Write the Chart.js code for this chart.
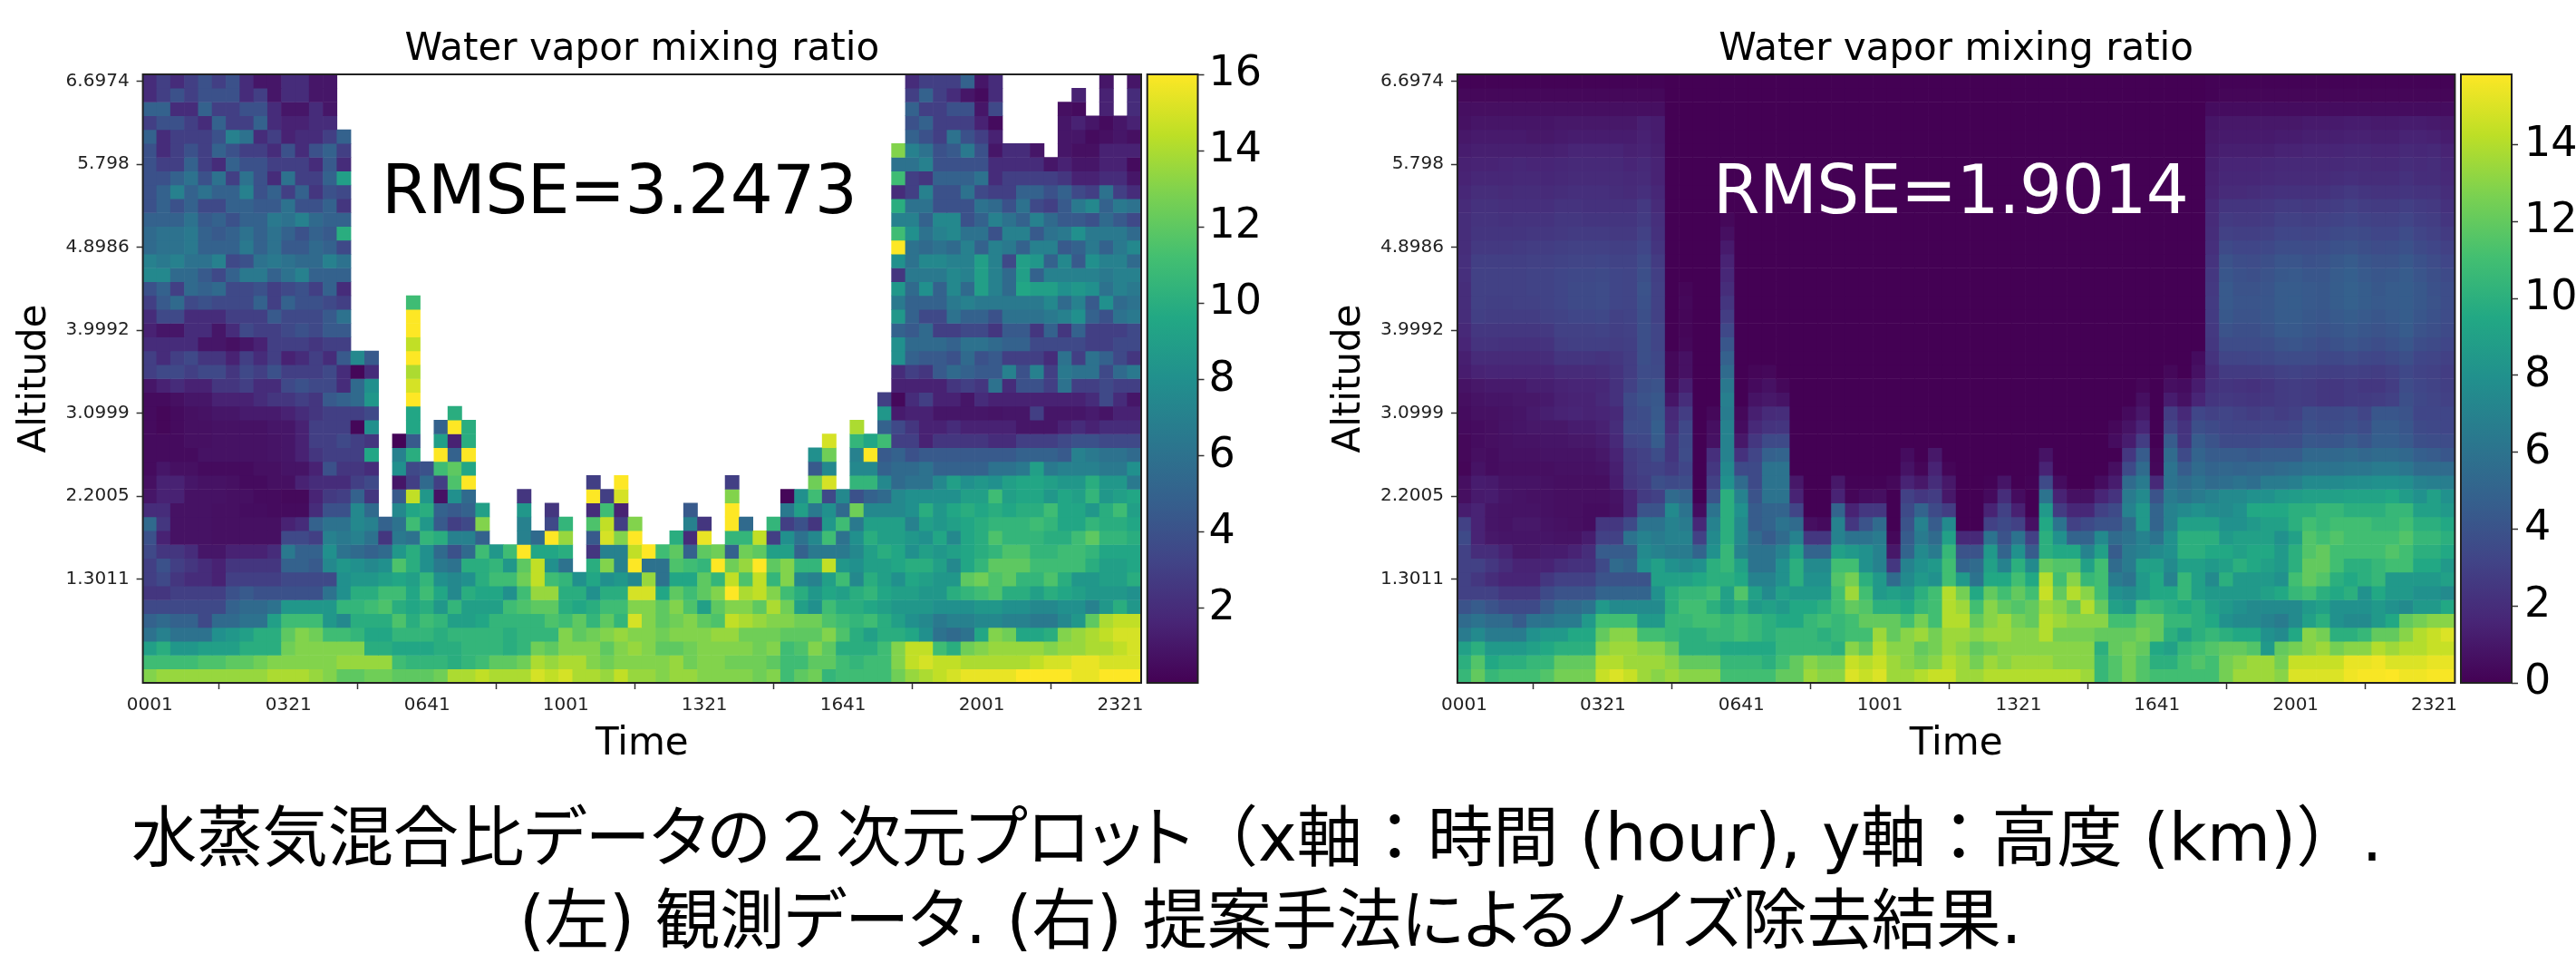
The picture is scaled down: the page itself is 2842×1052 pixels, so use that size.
<!DOCTYPE html>
<html>
<head>
<meta charset="utf-8">
<script src="https://cdn.jsdelivr.net/npm/chart.js@4"></script>
<style>
html, body { margin: 0; width: 2842px; height: 1052px; overflow: hidden; background: #fff; }
canvas { position: absolute; top: 0; filter: blur(0.6px); }
.rmse { position: absolute; top: 173px; font: 74px/72px "DejaVu Sans"; letter-spacing: -0.5px; white-space: nowrap; }
.caption { position: absolute; white-space: nowrap; transform-origin: 0 0; color: #000;
  font: 73px/80px "DejaVu Sans", "Noto Sans CJK JP"; }
.caption span { font-feature-settings: "palt"; }
</style>
</head>
<body>
<canvas id="leftMap" width="1416" height="850" style="left:0"></canvas>
<canvas id="leftBar" width="150" height="800" style="left:1262px"></canvas>
<canvas id="rightMap" width="1416" height="850" style="left:1450px"></canvas>
<canvas id="rightBar" width="130" height="800" style="left:2712px"></canvas>
<div class="rmse" style="left:421px;color:#000">RMSE=3.2473</div>
<div class="rmse" style="left:1890px;color:#fff">RMSE=1.9014</div>
<div class="caption" id="line1" data-left="145" data-width="2483" style="top:884px">水蒸気混合比<span>データの</span>２次元<span>プロット</span>（x軸：時間 (hour), y軸：高度 (km)）.</div>
<div class="caption" id="line2" data-left="573" data-width="1657" style="top:975px">(左) 観測<span>データ</span>. (右) 提案手法<span>によるノイズ</span>除去結果.</div>
<script>
const _ = null;
function rep(n, v) { return new Array(n).fill(v); }

// tick labels
const timeTicks = ['0001', '0321', '0641', '1001', '1321', '1641', '2001', '2321'];
const altitudeTicks = ['6.6974', '5.798', '4.8986', '3.9992', '3.0999', '2.2005', '1.3011'];
const leftBarTicks = [2, 4, 6, 8, 10, 12, 14, 16];
const rightBarTicks = [0, 2, 4, 6, 8, 10, 12, 14];

// water vapor per altitude row (top to bottom), one value per time step, null = no data
const observed = [
[2,3,2,3,4,3,4,2,1,1,2,2,1,1,...rep(41,_),2,3,3,3,5,1,2,...rep(7,_),1,_,1],
[2,3,4,3,4,4,4,2,3,1,2,2,1,1,...rep(41,_),3,5,3,2,1,.5,2,...rep(5,_),1.5,_,1.5,_,2],
[5,5,2,2,5,3,3,4,4,2,1,1,2,1,...rep(41,_),5,3,3,4,4,1,3.5,...rep(4,_),.7,.5,_,1.5,_,2],
[3,4,4,3,2,5,3,3,5,2,1.5,1.5,2,2,...rep(41,_),4,5,3,3,3,1.5,.5,...rep(4,_),1,1.5,1,.5,1,1.5],
[5,2,3,3,3,4,7,6,2,3,1.5,2,2,3,5,...rep(40,_),5,4,3,6,4,3,1.5,...rep(4,_),1,1,.5,.7,1,.7],
[4,2,3,4,3,5,4,3,3,2,4,2,4,5,3,...rep(39,_),13,7,6,4,4.5,6.5,4,1,2,2,1,_,1,.7,.7,1.5,1.5,1.5],
[4,3,3,5,3,2,5,4,4,3,3,3,2,4.5,2,...rep(39,_),6,6,7,4,4,4,4,2,2,2,2,1,1.5,1,1,1.5,1.5,.5],
[4,4,5,6,4,6,3,6,4,2,6,3,3,5,9,...rep(39,_),11,3,2.5,5,5,5,6,2,3,3,3,3,2.5,1.5,1.5,2,2,1],
[4,5,7,5,6,5,5,7,4,5,3,5,2.5,4,3.5,...rep(39,_),2,3,7,4,4,6,3.5,3,3,5,5,4,5,3.5,3,6,3,2],
[4,5,4,5,3.5,3.5,5,5,4.5,4.5,6,4,4,5,2.5,...rep(39,_),10,6,6,4,4,4,6,5.5,4,6,3.5,3,4.5,6.5,7.5,5,6.5,6],
[5,5,5,6,4.5,5,4,5,5,6.5,6,7,5.5,5,5,...rep(39,_),7,7,5,7.5,7.5,4,5,7,6,5,7,5.5,4.5,4.5,4,5.5,4.5,3.5],
[5.5,6,6,6.5,5,4.5,5,6,5,6,5,4,5,4.5,10,...rep(39,_),11,8,6,7,7.5,6,6,4,7,7,4.5,6,6.5,8,6.5,6.5,6.5,5.5],
[5.5,6,6,6.5,5,5,5,6.5,5,6,4.5,4.5,5.5,5,3.5,...rep(39,_),16,6,5.5,6,5.5,7,5,7,6.5,5,7,7,4.5,5,6.5,5,6.5,7.5],
[7,6.5,7,6,6,7,3.5,4,6,6.5,6,5.5,5.5,7,6,...rep(39,_),8,6,7.5,7.5,7,7,9,7,3.5,9,8.5,5,7.5,4.5,8,7,7,5.5],
[7.5,7.5,5.5,5.5,4.5,3.5,5,6.5,6.5,5,6,7,5,5,5,...rep(39,_),2.5,6.5,6.5,6.5,7.5,7,9,7,5.5,9,5,7,7,7,7,6.5,7,7],
[4,5,3,5.5,5,5.5,3.5,3.5,4,3,3.5,4,3,5,2,...rep(39,_),8.5,5.5,8,5,7.5,5.5,9,7,5.5,9.5,9,9,8,8.5,8,6,7,6.5],
[3,4.5,5.5,3.5,4,3.5,3.5,3.5,5,3,5,4,4,3.5,3,...rep(4,_),11,...rep(34,_),6.5,5,5,5,6.5,7,6.5,6.5,6.5,6.5,6.5,7.5,5.5,7,4.5,8,5.5,6],
[2,3.5,3.5,2,2,2,3,3,3,4.5,3.5,3.5,3.5,4.5,6,...rep(4,_),16,...rep(34,_),8.5,5,3.5,3.5,6,5,5,4,6,6,6,6.5,7,8,5,4,6,6.5],
[1.5,1,1,2,2,1,2,3.5,3,3,3.5,4,3.5,4.5,4.5,...rep(4,_),16,...rep(34,_),5,4.5,5.5,3,3,3.5,3.5,2.5,4.5,4.5,2.5,5,2.5,5,3,3,3,3.5],
[2,2,2,2,1,1,.7,1,1.5,3,3,3,2.5,3,3,...rep(4,_),14.5,...rep(34,_),8,5.5,5.5,5.5,5,6,6,5.5,5,5,3.5,3.5,3.5,3.5,3,3,3.5,3.5],
[3,2,3,3.5,2.5,2.5,1.5,3,2,3,1.5,2,3,2,4.5,7.5,4.5,...rep(2,_),16,...rep(34,_),8,5,4.5,4.5,4,5.5,4,4.5,3,3,3,2,6,3,6,5,3.5,2.5],
[3,3.5,3.5,3,3.5,3.5,2.5,3.5,3,4,3,3,3,3.5,2,.3,2,...rep(2,_),14,...rep(34,_),2,3,2.5,4.5,5.5,5,4.5,4.5,7,4,7,3,6.5,6,6,3.5,5.5,6.5],
[1,1.5,2,1.5,1.5,2.5,2.5,3,2,2,3.5,4,3.5,3.5,2,5.5,8,...rep(2,_),15,...rep(34,_),1.5,1.5,1.5,1.5,2.5,3,2.5,6,2,4,4,3,6,3,3,3.5,3,3],
[.5,.5,.7,1,1,1.5,1.5,1.5,2,2.5,2.5,3,2.5,4.5,5,5.5,8.5,...rep(2,_),16,...rep(33,_),3,.4,2,3,1.5,1.5,1,2,1.5,1.5,1.5,1.5,1.5,1.5,1.5,2,3.5,2,1],
[.5,.3,.5,.7,.8,1,1,1.2,1.2,1.2,1.5,2,2.5,3,3,3,3.5,...rep(2,_),9.5,...rep(2,_),10,...rep(30,_),8.5,1.2,1.5,1.5,1,1,1,1,.9,1,1,3,1,1,1,1.2,.9,1.5,1.5],
[.5,.3,.5,.7,.7,.8,.8,.8,.8,1,1,1.5,3,3,3,.3,8,...rep(2,_),9.5,_,5,16,10,...rep(27,_),14,_,5,3.5,2.5,1.5,1.5,2,1.5,1.5,1.5,1.5,1,1,1,1.5,2,1.5,2,2,2],
[.5,.5,.5,.7,.7,.8,.8,.8,.8,.9,1,1.5,3,3,3.5,3,2.5,_,.2,4.5,_,9,1.5,10,...rep(25,_),15,_,10.5,9.5,11,3,3,1.5,2.5,2.5,2.5,2.5,2,2,3,3,3,3.5,4,4,3.5,3.5,3.5],
[.5,.5,.5,.5,.8,.8,.8,.8,.8,.9,1,1.5,2.5,3,3,3,9.5,_,7,10,_,16,5,16,...rep(24,_),8,12.5,_,7,16,4.5,5,4,4.5,4.5,4.5,4.5,4.5,4.5,4.5,5,5,5,4.5,7,6.5,6,6,5.5],
[.5,1,.7,.7,.5,.5,.5,.5,.7,.7,.9,.9,1.5,4,2.5,2.5,2,_,8,3.5,4,11,12,9.5,...rep(24,_),4.5,7.5,_,7.5,7.5,5,5.5,5.5,6,5,5,5,5,6,6,6.5,9,6.5,7,7,7,6.5,6.5,8],
[.7,1.5,1.5,1,.8,.8,.7,.5,.5,.7,.7,1.5,2,2,2,3,3.5,_,1,3,5.5,3,11.5,16,...rep(8,_),3,_,16,...rep(7,_),3,...rep(5,_),12.5,15,_,10.5,10.5,7.5,5.5,6,6,7.5,9,8,8.5,8,9,9.5,9.5,9,8.5,8.5,10,8.5,8.5,6.5],
[1,1.5,1.5,.8,.8,.8,.7,.7,.5,.5,.4,.4,1.6,2.7,3,5,2.5,_,4.5,14.5,8.5,.8,8,5.5,...rep(3,_),2.5,...rep(4,_),16,3,15,...rep(7,_),13,...rep(3,_),.3,8,11,3.5,7.5,4,5,5.5,7.5,8,8,8,8,9,9,11,9,9.5,9.5,8.5,9.5,9,10.5,8.5,9,9.5],
[2,2,.8,.8,.8,.7,.7,.6,.6,.5,.5,.5,2,4,4,7.5,5.5,_,7.5,9.5,10,5,4.5,5,9,...rep(2,_),8.5,_,2.5,...rep(2,_),2,11,1.5,...rep(4,_),4.5,...rep(2,_),16,...rep(3,_),6.5,9,6.5,8,5.5,12.5,7.5,7.5,7.5,8,10,8.5,9.5,10,9.5,10,9.5,10,10,11,9.5,9.5,8.5,10,11,9],
[5.5,2.5,.8,.8,.8,.7,.7,.7,.7,.7,1.5,2,5,6,6,7.5,7,5,6,11,8.5,4.5,3,3.5,13,...rep(2,_),7,_,3.5,10.5,_,11.5,14.5,3,13,...rep(3,_),7,2.5,_,16,5.5,_,10.5,3,4,2.5,8.5,11,6.5,9,9,9,7,9,8.5,9,9.5,10,10.5,10.5,10.5,11,10.5,9.5,9.5,10.5,10,10,9.5],
[4,1.5,.8,.8,.8,.7,.7,.7,.7,.7,3.5,3.5,3,7,6.5,7,6,2.5,6.5,6,10.5,10,7,7,5,...rep(2,_),7,5.5,16,13.5,_,4.5,15,13,16,...rep(2,_),10,2,15.5,_,10.5,10.5,14.5,3,8,6,7.5,11,6,8,10,9,9,8.5,8,9.5,7.5,9.5,10,11.5,10.5,10.5,10.5,10,10,11,12,10.5,10.5,10],
[3.5,2.5,2.5,2,1,1,1.5,1.5,1.5,2,6.5,5,5,8,6,5.5,5,5.5,8.5,10,8,5.5,4,5.5,11,8.5,11,16,9.5,9.5,10,_,2.5,7,7,14.5,16,11,12,5,12,12.5,5,12.5,12,9,9,5,6.5,6.5,6.5,7.5,9,10,9.5,8,9,8.5,9,9.5,10,10.5,11.5,11.5,10.5,10.5,11,11,10.5,9.5,9.5,9.5],
[3,4,3,2.5,2,1.5,2.5,2.5,2.5,2.5,5,5,4.5,7.5,8.5,8,7.5,8,11.5,10,8,6.5,6,10,10,10.5,8.5,12,14.5,8,6,_,10,13,7,16,6,6,11.5,11,10.5,16,12.5,13.5,16,12,13,10.5,10.5,14.5,8.5,8,9,9,9.5,10,10,9,7.5,9.5,10.5,12,12,12,11,11,11,11,10,9,9,9.5],
[3,3.5,2.5,2,2,1.5,3,3,3,3,3.5,3.5,3.5,3.5,8,8.5,8.5,9,9.5,9,10.5,8,7.5,8,10,11,11,12.5,14.5,11,10.5,8,9.5,8,8.5,7.5,13.5,6,9.5,9.5,12,10.5,14.5,11.5,14.5,10.5,13,7.5,7,9,11,7.5,10,9,8,9.5,9,8.5,8.5,12,12.5,11.5,12,10.5,10.5,11.5,10,8.5,8.5,9,9,10],
[2.5,2.5,3,3,3,3,4,4.5,4,4,4,4,4,6,8,10,10,11,11,9.5,11,9.5,7.5,10,9.5,9.5,8,11,13.5,13.5,10,10,8,10,10,15,15,9.5,12,11,12,13,16,14,14.5,13,11,10,8.5,9.5,9,10,10.5,9.5,9,9,8.5,8.5,10,10.5,11,11.5,10,10,9,10,9.5,9,8.5,8.5,8.5,8],
[3.5,3.5,3.5,3.5,3.5,3.5,5,5.5,5.5,6,8.5,8.5,8.5,8.5,10.5,10.5,11,11.5,10,9.5,10,8.5,10.5,9,9,9,11,11.5,12,12,10,9.5,10,11,11,13,13,12,13,11.5,9,12,13,13,12,14,12.5,9,8,11,10,10,9.5,9,8.5,8.5,8.5,8,8,8,8.5,8.5,8,8,7.5,7.5,8,8,7,8.5,10,8.5],
[5,5.5,5,5,3.5,5.5,5.5,6,6,9,11,11,11,8.5,7.5,10,10,10,11.5,10,11,10.5,9,9,9.5,10.5,10.5,10.5,10.5,11.5,11,12,10.5,12,10.5,15,13,12,12.5,13,12,11.5,14.5,14,13.5,13,13,12.5,12.5,11.5,11,10.5,11,10,9,8,7.5,6.5,7,7,7.5,7.5,7,7,6.5,6.5,7.5,8.5,12,14,14.5,14.5],
[6,7,6,6,6,8,8.5,9,10,10,12,13,12.5,11,11,10.5,9.5,9.5,10.5,10.5,10.5,10,10.5,10.5,10.5,10.5,10,10.5,10.5,10.5,13,12,12.5,13,13.5,13,13,12.5,13,13,13,13.5,13.5,12.5,12.5,12.5,12,12,12,13,11.5,10,9,10,10,9.5,8,6,5.5,6,9.5,13,12.5,9.5,9.5,10,13,13.5,14,14.5,15,15],
[9,10,8.5,8.5,9,9,9,10,10,10,12.5,13,13,13,13,13,10,10,9.5,9.5,9.5,10,10,10.5,10.5,10.5,10,10.5,12.5,12,13,13,13,12,13,13.5,13,12,12,12.5,13,13,13,13,12.5,13,11,11.5,13,12,10,10,10,11,13,14.5,14.5,11,10,12.5,13,13.5,13.5,13.5,13.5,13,13.5,13.5,14,14,14.5,15],
[11,11,11,11,11.5,11.5,12,12,12.5,13,13,13,13,13,13.5,13.5,13.5,13.5,11,10.5,10.5,10.5,10,10.5,11,12,12,12.5,14,13.5,14,14,13,12.5,13,13,13,13,13.5,12.5,13,13,12.5,12.5,12.5,12,11,11,12,12,11,10.5,11,11,13,14.5,15,14.5,14.5,14,14,14,14,14,14.5,15,15,15.5,15.5,15,15,15],
[13,13.5,13.5,13.5,13.5,13.5,13.5,13.5,13.5,14,14,14,13.5,13,12,12,12.5,12.5,12,12,12,12.5,14,14,14.5,14,14,14,15,14.5,15,14,14,13.5,14.5,13.5,13.5,13,13.5,13.5,13,13,13,13,12.5,13,11,12,12.5,10.5,11,11,11,11,12.5,13.5,14,14.5,15,15.5,15.5,15.5,15.5,16,16,16,16,15.5,15.5,16,16,16]
];

const denoised = [
[...rep(15,.1),...rep(39,0),...rep(18,.1)],
[...rep(15,.3),...rep(39,0),.1,...rep(17,.2)],
[...rep(15,.6),...rep(39,0),...rep(18,.5)],
[.7,.9,.9,.9,.9,.9,.9,1,1,1,1,1,1,1.3,1.2,...rep(39,0),.9,1,1,1,1,1,1,1.1,1.1,1.1,1.2,1.2,1.1,1.1,1.2,1.2,1.1,1],
[1,1.1,1.1,1.1,1.1,1,1,1.1,1.2,1.2,1.2,1.2,1.2,1.4,1.2,...rep(39,0),1,1.1,1.1,1.1,1.1,1.2,1.2,1.3,1.3,1.3,1.4,1.4,1.3,1.3,1.5,1.5,1.4,1.2],
[1.2,1.3,1.3,1.3,1.3,1.3,1.3,1.4,1.6,1.6,1.6,1.6,1.4,1.5,1.3,...rep(39,0),1.1,1.3,1.3,1.3,1.3,1.5,1.5,1.6,1.6,1.6,1.7,1.7,1.6,1.6,1.8,1.7,1.8,1.5],
[1.4,1.5,1.5,1.6,1.7,1.6,1.6,1.7,1.8,1.8,1.8,1.8,1.6,1.8,1.5,...rep(39,0),1.3,1.6,1.6,1.6,1.7,1.8,1.8,1.8,1.8,1.8,1.9,1.9,1.8,1.8,2,1.9,2,1.7],
[1.5,1.7,1.7,1.7,1.8,1.8,1.7,1.8,1.9,1.9,1.9,1.9,1.8,1.9,1.5,...rep(39,0),1.4,1.7,1.7,1.7,1.8,1.9,1.9,1.9,1.9,2,2.1,2,2,2,2.2,2,2,1.8],
[1.7,2,2,1.9,2,2,1.9,2,2.1,2.1,2.1,2,1.9,2.1,1.7,...rep(39,0),1.5,1.9,1.9,2,2.1,2.2,2.2,2.2,2.2,2.4,2.6,2.4,2.3,2.3,2.4,2.3,2.3,2],
[1.9,2.2,2.2,2.1,2.1,2.1,2.1,2.3,2.3,2.2,2.2,2.2,2.2,2.6,1.9,...rep(39,0),1.8,2.4,2.4,2.4,2.5,2.7,2.7,2.6,2.7,2.8,3,2.8,2.7,2.7,2.9,2.7,2.6,2.2],
[2,2.3,2.3,2.2,2.3,2.3,2.3,2.5,2.5,2.4,2.4,2.4,2.4,2.7,2.1,...rep(4,0),.3,...rep(34,0),1.9,2.7,2.6,2.6,2.7,3,3,2.9,3,3.1,3.3,3.1,3,3,3.2,2.9,2.8,2.4],
[2,2.4,2.4,2.4,2.4,2.5,2.5,2.6,2.7,2.7,2.7,2.6,2.6,3,2.2,...rep(4,0),.6,...rep(34,0),2,3,2.9,2.9,3,3.3,3.3,3.2,3.3,3.5,3.6,3.5,3.3,3.3,3.6,3.2,3,2.7],
[2,2.6,2.6,2.6,2.7,2.8,2.8,2.9,3,3,3,2.9,2.9,3.3,2.4,...rep(4,0),1.1,...rep(34,0),2.1,3.5,3.3,3.3,3.4,3.7,3.7,3.6,3.7,3.9,4,3.8,3.6,3.7,3.9,3.5,3.3,3],
[2.1,2.9,2.9,2.9,2.9,3,3,3.1,3.2,3.2,3.3,3.1,3.1,3.6,2.7,...rep(4,0),1.5,...rep(34,0),2.3,4,3.7,3.6,3.8,4.1,4.1,3.9,4,4.3,4.5,4.2,4,4,4.3,3.9,3.6,3.3],
[2.1,3,3,3,3,3.1,3.1,3.3,3.4,3.4,3.5,3.3,3.2,3.8,2.9,...rep(4,0),1.7,...rep(34,0),2.5,4.2,3.9,3.8,4,4.3,4.4,4.2,4.2,4.5,4.7,4.4,4.2,4.3,4.5,4.1,3.8,3.5],
[2,3,3,3,3,3.1,3.1,3.3,3.5,3.5,3.6,3.3,3.2,4,3,0,.2,0,0,2,...rep(34,0),2.6,4.4,4,4,4.1,4.5,4.5,4.4,4.3,4.6,4.8,4.6,4.3,4.5,4.6,4.3,3.9,3.7],
[2,3,2.9,2.9,3,3,3.1,3.3,3.5,3.5,3.6,3.3,3.2,3.9,3,0,.3,0,0,2.4,...rep(34,0),2.7,4.4,4.1,4.1,4.2,4.5,4.6,4.4,4.3,4.6,4.8,4.6,4.4,4.5,4.6,4.3,4,3.7],
[2,2.9,2.8,2.8,2.8,2.8,3,3.1,3.3,3.3,3.4,3,3.1,3.8,3,0,.2,0,0,2.8,...rep(34,0),2.7,4.3,4,4,4.2,4.5,4.5,4.3,4.2,4.4,4.6,4.4,4.2,4.4,4.6,4.2,3.9,3.6],
[1.8,2.5,2.5,2.5,2.5,2.5,2.6,3,3,3,3.1,2.9,3,3.8,3.2,0,.2,0,0,3.4,...rep(34,0),2.6,4,3.8,3.8,4,4.4,4.4,4.2,4,4.2,4.4,4.2,4,4.2,4.5,4,3.8,3.5],
[1.6,2.3,2.3,2.2,2.2,2.2,2.3,2.8,2.9,2.9,2.9,2.8,2.9,3.8,3.2,0,.3,0,0,4.2,...rep(34,0),2.5,3.6,3.6,3.6,3.7,4,4.1,3.9,3.7,3.9,4.1,3.9,3.7,3.9,4.2,3.7,3.5,3.3],
[1.3,1.9,1.9,1.9,1.9,1.9,2,2.4,2.4,2.4,2.3,2.5,2.8,3.8,3.4,.3,.7,0,0,4.8,...rep(33,0),.5,2.3,3.2,3.2,3.3,3.4,3.6,3.6,3.6,3.4,3.4,3.6,3.4,3.3,3.5,3.8,3.3,3.2,3],
[1.2,1.5,1.6,1.6,1.6,1.6,1.6,1.9,1.9,1.9,2,2.3,2.8,3.6,3.5,.3,.7,0,0,5.5,0,.2,.3,0,...rep(27,0),.3,0,.7,2,2.7,2.7,2.7,2.8,3,3.1,3,2.9,2.9,3,2.9,2.8,3,3.4,3.1,3,2.8],
[.8,1,1.1,1.1,1.1,1.3,1.3,1.5,1.6,1.6,1.7,2.2,3,3.8,4,.5,1.3,0,0,6.3,0,.4,.7,.3,...rep(25,0),.2,0,.6,.5,1.2,2.2,2.4,2.3,2.2,2.4,2.7,2.8,2.7,2.5,2.5,2.7,2.5,2.5,2.8,3.6,3.3,3.1,2.9],
[.6,.8,.9,.9,1,1,1.1,1.4,1.5,1.5,1.8,2.2,3.5,4,4.3,.9,2,0,0,6.8,0,.8,1,.8,...rep(25,0),.6,0,1.2,.7,1.6,2.4,2.6,2.5,2.4,2.5,2.7,2.8,2.7,2.5,2.5,2.7,2.7,2.8,3,3.8,3.4,3.2,3],
[.5,.7,.7,.8,.9,1.1,1.3,1.5,1.6,1.5,1.6,1.8,3.4,3.7,4.4,1.8,2.8,0,.3,6.6,.3,1.3,1.9,2,...rep(24,0),.4,1,0,2.8,1.8,3.3,3,3.2,3,2.8,3,2.8,3,3.7,3.5,3.5,3.7,3.2,4.2,4.2,4,3.3,3.3,3.3],
[.4,.5,.6,.8,.9,1,1,1,1.2,1.2,1.4,2,3.6,3.6,4.7,2,3.4,0,.6,7,.5,1.8,2.3,2.4,...rep(23,0),.3,.8,1.6,0,3.2,2.3,3.8,3.5,3.3,3.2,3.2,3.2,3.2,3.4,3.9,3.7,3.7,3.9,3.6,4.5,4.5,4.2,3.5,3.4,3.3],
[.3,.5,.6,.7,.8,.8,.9,.9,1,1,1.2,1.8,3.2,3.4,4.5,2.4,3.5,0,.7,7,1,2.5,3.5,3.5,...rep(23,0),.5,1.2,2.8,0,4.5,2.4,4.5,4,3.5,3.5,3.5,3.7,3.6,3.7,4.3,4.2,4.2,4.5,4.1,4.7,4.7,4.4,3.8,3.7,3.6],
[.3,.6,.5,.7,.7,.7,.8,.8,.8,.8,1,1.5,2.7,3,3.7,2.4,3.6,0,2.1,7,2.2,3.2,4.8,5,...rep(8,0),.5,0,1,...rep(7,0),.8,...rep(5,0),2.5,4.5,.2,5.5,3.5,5,4.5,4.5,4.5,4.3,4.5,4.5,4.5,5.3,5.3,5.3,5.5,5.2,5.5,5.5,5.3,4.7,4.5,4.2],
[.2,.8,.5,.6,.6,.6,.6,.7,.7,.7,.8,1.3,2.6,3,3.1,2.7,3.3,0,2.5,7.5,3.5,3.5,6,6,...rep(8,0),.8,.2,1.5,.2,...rep(6,0),1.5,...rep(4,0),.6,3.5,5.5,.3,6,4.5,5.5,5,5.2,5,5.2,5.2,5.5,5.7,6,6,6,6.2,6.2,6.5,6.5,6.2,5.5,5.5,5.5],
[.6,1.2,1.1,.8,.8,.8,.7,.6,.6,.6,.6,1.2,2.5,2.8,3.8,3.5,3.7,0,3,8,5.5,3.5,6,6,1,0,0,1,.1,.1,.1,.3,1.5,1,2,1,0,0,.1,.9,0,.1,3.5,.5,0,0,.5,1.2,5.5,6.5,1.8,6,5.5,6,5.5,5.7,6,5.7,6.5,6.5,6.8,7.5,7.5,7.5,7.7,7.8,8,8,7.8,7,6.8,6.7],
[.6,1.1,1.2,.9,.8,.7,.7,.6,.6,.6,.6,.8,1.6,2.7,3,5.5,5,0,4,10,7,4,6,6,1.5,0,0,1.5,.2,.5,.6,0,3,2.5,2.8,1,0,0,.4,2,.5,0,6,1.5,.7,.7,1.6,2.3,6.5,7.5,4,6.5,6,6.5,7,7.5,7.5,8,8,8.5,8.7,9,9,9,9.2,9.2,9.2,9.5,8.7,8,9,8],
[1.2,1.5,.9,.8,.8,.8,.7,.6,.6,.5,.5,.7,1.6,4,4,7.5,6,.5,6,10,8,4.5,5,5,3.2,0,0,5,1.5,2.5,2.5,0,3.5,5,3.5,2.8,0,0,1.5,3,1.4,0,8.5,2.7,1.7,1.7,3,3.5,7,8.5,5,7,7.5,8,7.5,7.5,8,9.5,9.5,9.5,10,10,10.5,10.5,10,10,10,10.5,10.5,9,9,8.5],
[3,1.5,.9,.8,1,1,.8,.7,.6,.5,2.5,2.5,3.5,6,6,7,6.5,1.7,7,10,7.5,4.5,5,6,5.5,.6,.4,7,2.5,4,5.5,0,4,7,4.5,7.5,0,0,3,3.5,3,.7,9.5,6,3,3.5,4,4,5.5,8.5,5,7,9,9,9,8,8,8.5,9,9,10,11,10.5,11,11,11,10.5,10.5,11,10,10,9.5],
[3.5,1.5,1,.9,.9,.9,.9,.8,.8,1.2,3,3,6,7,6.5,7,7,3,7.5,10,7.5,5.5,4.5,5.5,7,2.5,2.5,7,6,6,6.5,.3,4.5,6.5,5.5,9,1.8,1.8,6,4,6,3,10,8,5,5,7.5,5.5,6,7,6,8,10,10,10,8.5,9,9,9,8,9,11.5,11,11.5,11,11,11,11,11.5,10.5,10.5,10],
[3,2,2,1.5,1,1,1.2,1.2,1.5,2,4.5,4.5,4.5,7.5,7,6.5,6.5,5,8,10.5,7,6,6,7,9,5,5,9,8.5,8,7,1,5,7.5,6.5,10.5,4,4,8.5,5,8,4.5,10,9.5,9.5,7,9,4.5,6.5,7,7.5,8,10,10,9.5,9.5,9,9.5,9.5,8.5,10,11.5,12,11,11,11,11,11.5,11,10,10,9.5],
[3,3,2.5,2,1.5,1.5,1.5,2,2.2,2.2,3.5,5.5,5,8,9,8,7.5,8,10,10.5,9,6,6,8,10,7.5,7.5,11,11,8,7,2.5,7,8,8.5,11,5,5.5,9,7,10,7.5,12,11.5,11.5,9,11,5.5,6.5,9,9,7.5,9,9,8.5,9,10,9.5,9,8.5,10,12,12,11,10,10,10.5,11,11,9.5,9.5,8.5],
[3,2.5,2,1.6,1.6,1.6,2.5,3,3,3,4,4,4,4,9,9,9,9.5,10,10,9.5,7,7,8,10,8,8,11.5,12.5,10,8.5,5.5,7.5,8.5,8,11,8.5,6,9.5,9.5,11,9.5,14,11,13,10.5,11,6.5,6,8.5,9.5,7,10.5,9,7.5,10,8.5,8.5,8.5,8,11,12,11.5,10,9.5,10,10.5,8.5,8.5,8.5,8.5,9],
[3,3,3,2.5,2.5,2.5,3.5,4,4,4,5,5,5,5,8,10,10.5,10.5,11,9,11.5,9,7.5,9,8.5,8.5,8.5,11,13.5,11,8.5,9,8.5,10,11,14,12.5,9.5,12,11,12,11,14.5,12,14,13,11,8,7.5,8.5,9.5,9.5,10.5,9,8.5,8.5,8.5,8.5,9,9.5,10.5,11,10,9.5,10,8,9.5,8.5,8.5,8,8,7.5],
[4,4.5,4,3.5,3.5,3.5,4.5,5.5,5.5,6,8.5,7.5,7.5,7.5,7.5,10,11,11,10,9,10,8.5,9,8.5,9.5,9.5,10,11,12,11.5,10,10,9.5,10.5,11,14,13.5,11,13,12,11.5,12,13.5,13,12,14,12,9,8.5,11,10.5,10,9.5,10,9,8.5,8,7.5,7.5,7.5,7.5,8.5,9,8,8,8,8.5,8,7.5,8.5,8.5,9.5],
[5.5,6,5.5,5.5,4.5,6,6,6.5,6.5,8.5,11,11,11,8.5,8.5,10.5,10.5,11,11,10.5,11,10.5,10,9.5,9.5,10.5,11,10.5,11,12,12,12,11,12.5,11,14,14,12,13,13.5,12.5,12,14,13.5,13,13,13,11,11,12,12,10.5,10.5,10,9.5,8,7.5,7.5,7,6.5,7.5,9,10,8,7.5,7.5,8.5,9.5,12,12.5,13,13],
[6.5,7.5,6.5,6.5,6.5,8,8.5,8.5,9.5,9.5,12,13,13,11,11,10.5,10,10,10.5,10.5,11,10.5,10,10.5,10.5,10.5,10,10.5,11,11,13.5,12,13,13.5,12.5,13.5,13.5,13,13.5,13.5,13,13,14,12.5,12.5,12.5,12,12,12,12.5,12,10,9,10,10.5,10,9.5,9.5,8,7.5,9.5,13,12.5,10,10,10.5,12,12,13,14,14.5,15],
[9,10,8.5,8.5,8.5,9,9.5,10,10,10,13,13.5,13.5,13,13,12,10,10,10,9.5,9.5,9.5,9.5,10.5,10.5,10.5,10.5,10,13,12,14,13,13,12,12.5,13.5,13,12,12.5,13,13,13,13,13,13,13,10,12,12.5,12,9.5,9,10.5,11,11.5,12,12,11.5,8.5,12,12.5,13,13.5,12.5,13,13,14,13.5,14,14,14.5,14.5],
[10,11.5,9.5,10,10,10.5,10.5,12,12,12,14,14,13.5,13.5,13.5,13,12,12,12,10.5,10.5,10.5,10,11,12,13,12.5,12.5,14.5,14,14.5,13.5,13,12.5,13,14,13.5,12.5,13.5,13,13.5,13.5,13.5,13,13,13,10.5,11.5,12.5,11.5,10,10,11,11.5,11,12.5,13,13.5,13.5,12.5,14.5,14.5,14.5,14.5,15.3,15.3,15.5,15,15,15,15.3,15.3],
[10.5,12,10.5,11,11,11,11.5,12.5,12.5,12.5,14.5,15,14.5,13.5,13,13.5,13,13,13,11,11,11,11,12,12,13.5,13,13,15,14.5,15,13.5,13.5,14,14.5,14.5,13.5,13.5,14,14,14,14,14,14,14,13.5,10.5,11.5,12.5,11.5,11,11,11,11,11,12.5,13.5,13.5,13.5,13,15,15,15,15,15.5,15.7,15.7,15.8,15.5,15.5,15.7,15.7]
];

const stops = ['#440154', '#482576', '#414487', '#35608d', '#2a788e', '#21908d', '#22a884', '#43bf71', '#7ad151', '#bddf26', '#fde725'];
const stopRgb = stops.map(s => [1, 3, 5].map(i => parseInt(s.substr(i, 2), 16)));

function viridis(t) {
    t = Math.min(1, Math.max(0, t)) * 10;
    const i = Math.min(9, Math.floor(t)), f = t - i;
    const c = stopRgb[i].map((v, k) => Math.round(v + (stopRgb[i + 1][k] - v) * f));
    return 'rgb(' + c.join(',') + ')';
}

// black box round the plot area
const frame = {
    id: 'frame',
    afterDraw(chart) {
        const a = chart.chartArea, ctx = chart.ctx;
        ctx.save();
        ctx.strokeStyle = '#222';
        ctx.lineWidth = 2;
        ctx.strokeRect(a.left, a.top, a.right - a.left, a.bottom - a.top);
        ctx.restore();
    }
};

const tickStyle = { display: true, drawOnChartArea: false, tickLength: 7, tickColor: '#333', tickWidth: 1.5 };
const timeSteps = [];
for (let i = 0; i < 72; i++) {
    const m = 1 + i * 20;
    timeSteps.push(String(Math.floor(m / 60)).padStart(2, '0') + String(m % 60).padStart(2, '0'));
}

function heatmap(id, rows, vmin, vmax, axisWidth, rightPad) {
    return new Chart(document.getElementById(id), {
        type: 'bar',
        data: {
            labels: timeSteps,
            datasets: rows.map((row, r) => ({
                data: row.map(v => v === null ? null : [r, r + 1]),
                backgroundColor: row.map(v => v === null ? 'transparent' : viridis((v - vmin) / (vmax - vmin))),
                borderWidth: 0,
                grouped: false,
                barPercentage: 1,
                categoryPercentage: 1
            }))
        },
        options: {
            responsive: false,
            animation: false,
            layout: { padding: { left: 0, top: 0, bottom: 0, right: rightPad } },
            plugins: {
                legend: { display: false },
                tooltip: { enabled: false }
            },
            scales: {
                x: {
                    afterBuildTicks: axis => { axis.ticks = axis.ticks.filter(t => t.value % 10 === 0); },
                    afterFit: axis => { axis.height = 97; },
                    grid: tickStyle,
                    border: { display: false },
                    ticks: { autoSkip: false, maxRotation: 0, padding: 6, color: '#222', font: { family: 'DejaVu Sans', size: 20 } },
                    title: { display: true, text: 'Time', color: '#000', font: { family: 'DejaVu Sans', size: 42 }, padding: { top: 0, bottom: 4 } }
                },
                // empty top axis, it only carries the plot title centred over the cells
                titleAxis: {
                    axis: 'x',
                    type: 'category',
                    position: 'top',
                    afterFit: axis => { axis.height = 82; },
                    grid: { display: false },
                    border: { display: false },
                    ticks: { display: false },
                    title: { display: true, text: 'Water vapor mixing ratio', color: '#000', font: { family: 'DejaVu Sans', size: 42 }, padding: { top: 30, bottom: 0 } }
                },
                y: {
                    min: 0,
                    max: rows.length,
                    reverse: true,
                    afterBuildTicks: axis => { axis.ticks = altitudeTicks.map((t, i) => ({ value: i * 6 + 0.5 })); },
                    afterFit: axis => { axis.width = axisWidth; },
                    grid: tickStyle,
                    border: { display: false },
                    ticks: { padding: 8, color: '#222', font: { family: 'DejaVu Sans', size: 20 }, callback: (v, i) => altitudeTicks[i] },
                    title: { display: true, text: 'Altitude', color: '#000', font: { family: 'DejaVu Sans', size: 42 }, padding: { top: 14, bottom: 0 } }
                }
            }
        },
        plugins: [frame]
    });
}

function colorbar(id, ticks, vmin, vmax, leftPad, axisWidth, labelPad) {
    return new Chart(document.getElementById(id), {
        type: 'bar',
        data: {
            labels: [''],
            datasets: [{
                data: [[vmin, vmax]],
                barPercentage: 1,
                categoryPercentage: 1,
                borderWidth: 0,
                backgroundColor: c => {
                    const a = c.chart.chartArea;
                    if (!a) return stops[5];
                    const g = c.chart.ctx.createLinearGradient(0, a.bottom, 0, a.top);
                    stops.forEach((s, i) => g.addColorStop(i / 10, s));
                    return g;
                }
            }]
        },
        options: {
            responsive: false,
            animation: false,
            layout: { padding: { left: leftPad, top: 82, bottom: 47, right: 0 } },
            plugins: { legend: { display: false }, tooltip: { enabled: false } },
            scales: {
                x: { display: false },
                y: {
                    position: 'right',
                    min: vmin,
                    max: vmax,
                    afterBuildTicks: axis => { axis.ticks = ticks.map(v => ({ value: v })); },
                    afterFit: axis => { axis.width = axisWidth; },
                    grid: tickStyle,
                    border: { display: false },
                    ticks: { padding: labelPad, color: '#000', font: { family: 'DejaVu Sans', size: 46 } }
                }
            }
        },
        plugins: [frame]
    });
}

heatmap('leftMap', observed, 0.05, 16, 157.6, 157);
colorbar('leftBar', leftBarTicks, 0.05, 16, 3.7, 90.5, 5);
heatmap('rightMap', denoised, 0, 15.83, 157.9, 157.6);
colorbar('rightBar', rightBarTicks, 0, 15.83, 3, 71, 7);

// squeeze the two caption lines onto their measured widths
['line1', 'line2'].forEach(id => {
    const el = document.getElementById(id);
    el.style.left = el.dataset.left + 'px';
    el.style.transform = 'scaleX(' + el.dataset.width / el.offsetWidth + ')';
});
</script>
</body>
</html>
